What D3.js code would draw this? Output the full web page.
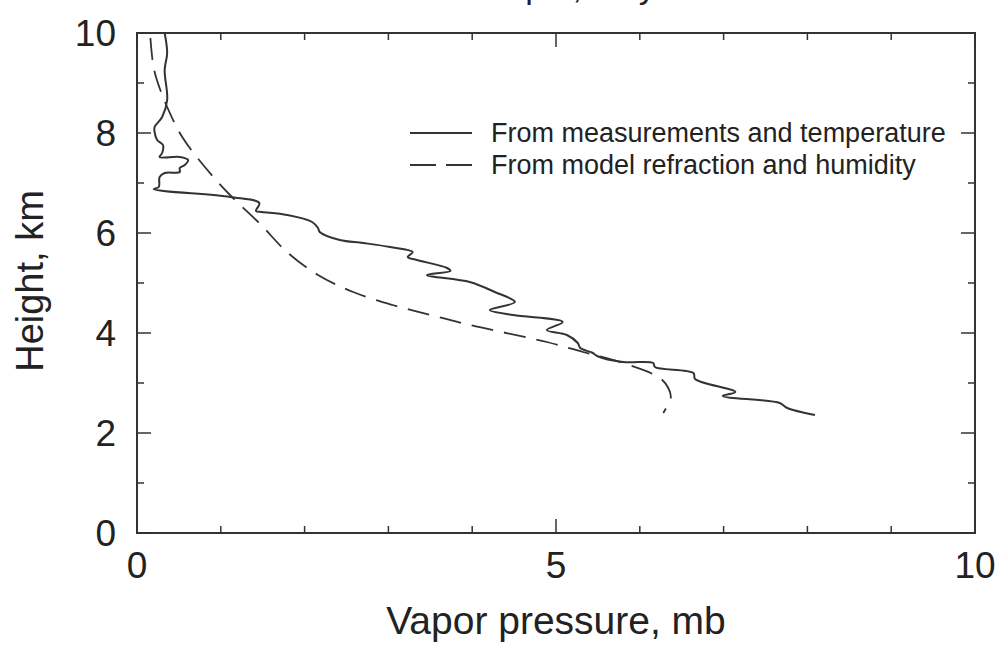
<!DOCTYPE html>
<meta charset="utf-8">
<script src="https://d3js.org/d3.v7.min.js"></script>
<style>
  body { margin: 0; background: #fff; }
  text { font-family: "Liberation Sans", Arial, Helvetica, sans-serif; fill: #222; }
</style>
<div id="my_dataviz"></div>
<script>
// vapor pressure (mb) and height (km), measured profile, top to bottom
var measPressure = [0.33,0.36,0.33,0.36,0.30,0.21,0.21,0.24,0.31,0.30,0.27,0.51,0.61,0.57,0.51,0.51,0.33,0.27,0.26,0.20,
  1.11,1.46,1.42,1.49,1.79,2.09,2.16,2.18,2.42,2.70,3.02,3.29,3.23,3.34,3.70,3.74,3.46,3.97,4.27,4.51,4.21,4.49,
  5.08,4.89,5.13,5.26,5.29,5.44,5.49,5.80,6.16,6.18,6.64,6.66,7.14,6.99,7.67,7.76,8.09];
var measHeight = [10.0,9.60,9.26,8.66,8.32,8.12,8.02,7.86,7.76,7.60,7.52,7.52,7.46,7.36,7.30,7.22,7.20,7.12,6.92,6.88,
  6.72,6.60,6.44,6.42,6.36,6.22,6.10,6.02,5.86,5.80,5.72,5.62,5.52,5.46,5.30,5.24,5.16,5.02,4.82,4.62,4.46,4.36,
  4.22,4.06,3.96,3.80,3.70,3.60,3.54,3.42,3.40,3.32,3.20,3.08,2.82,2.74,2.60,2.50,2.36];

// model refraction and humidity profile
var modelPressure = [0.16,0.19,0.23,0.36,0.54,0.81,1.11,1.47,1.79,2.16,2.58,3.05,3.50,3.97,4.89,5.32,5.76,6.24,6.34,6.37,6.32,6.28];
var modelHeight = [9.90,9.40,9.10,8.52,7.92,7.32,6.76,6.18,5.62,5.16,4.82,4.56,4.36,4.16,3.82,3.62,3.42,3.10,2.90,2.72,2.52,2.40];

var xTickLabels = [0, 5, 10];
var yTickLabels = [0, 2, 4, 6, 8, 10];
var legendLabels = ["From measurements and temperature", "From model refraction and humidity"];

var W = 1000, H = 645;
var margin = {top: 33, right: 25, bottom: 112, left: 137},
    width = W - margin.left - margin.right,
    height = H - margin.top - margin.bottom;

var svg = d3.select("#my_dataviz")
  .append("svg")
    .attr("width", W)
    .attr("height", H);

var g = svg.append("g")
    .attr("transform", "translate(" + margin.left + "," + margin.top + ")");

var x = d3.scaleLinear().domain([0, 10]).range([0, width]);
var y = d3.scaleLinear().domain([0, 10]).range([height, 0]);

var ink = "#333";

// title, almost all of it above the top of the page
svg.append("text")
    .attr("x", 703)
    .attr("y", -2)
    .attr("text-anchor", "end")
    .style("font-size", "34px")
    .text("Water vapor, May 23");

// frame
g.append("rect")
    .attr("width", width)
    .attr("height", height)
    .attr("fill", "none")
    .attr("stroke", ink)
    .attr("stroke-width", 2);

// inward ticks on all four sides
var ticks = d3.range(0, 11);
function tickLen(v, major) { return major(v) ? 14 : 7; }
var xMajor = function(v) { return v % 5 === 0; };
var yMajor = function(v) { return v % 2 === 0; };

g.selectAll(".xb").data(ticks).enter().append("line")
    .attr("x1", function(d){ return x(d) }).attr("x2", function(d){ return x(d) })
    .attr("y1", height).attr("y2", function(d){ return height - tickLen(d, xMajor) })
    .attr("stroke", ink).attr("stroke-width", 1.5);
g.selectAll(".xt").data(ticks).enter().append("line")
    .attr("x1", function(d){ return x(d) }).attr("x2", function(d){ return x(d) })
    .attr("y1", 0).attr("y2", function(d){ return tickLen(d, xMajor) })
    .attr("stroke", ink).attr("stroke-width", 1.5);
g.selectAll(".yl").data(ticks).enter().append("line")
    .attr("y1", function(d){ return y(d) }).attr("y2", function(d){ return y(d) })
    .attr("x1", 0).attr("x2", function(d){ return tickLen(d, yMajor) })
    .attr("stroke", ink).attr("stroke-width", 1.5);
g.selectAll(".yr").data(ticks).enter().append("line")
    .attr("y1", function(d){ return y(d) }).attr("y2", function(d){ return y(d) })
    .attr("x1", width).attr("x2", function(d){ return width - tickLen(d, yMajor) })
    .attr("stroke", ink).attr("stroke-width", 1.5);

// tick labels
g.selectAll(".xlab").data(xTickLabels).enter().append("text")
    .attr("x", function(d){ return x(d) })
    .attr("y", height + 45)
    .attr("text-anchor", "middle")
    .style("font-size", "37px")
    .text(function(d){ return d });
g.selectAll(".ylab").data(yTickLabels).enter().append("text")
    .attr("x", -21)
    .attr("y", function(d){ return y(d) })
    .attr("dy", "0.36em")
    .attr("text-anchor", "end")
    .style("font-size", "37px")
    .text(function(d){ return d });

// axis titles
svg.append("text")
    .attr("x", 556)
    .attr("y", 634)
    .attr("text-anchor", "middle")
    .style("font-size", "39px")
    .text("Vapor pressure, mb");
svg.append("text")
    .attr("transform", "translate(43,281) rotate(-90)")
    .attr("text-anchor", "middle")
    .style("font-size", "38px")
    .text("Height, km");

// profiles
var meas = measPressure.map(function(v, i){ return [v, measHeight[i]] });
var model = modelPressure.map(function(v, i){ return [v, modelHeight[i]] });

g.append("path")
    .datum(meas)
    .attr("fill", "none")
    .attr("stroke", ink)
    .attr("stroke-width", 2)
    .attr("stroke-linejoin", "round")
    .attr("d", d3.line()
      .curve(d3.curveCatmullRom.alpha(0.5))
      .x(function(d){ return x(d[0]) })
      .y(function(d){ return y(d[1]) }));

g.append("path")
    .datum(model)
    .attr("fill", "none")
    .attr("stroke", ink)
    .attr("stroke-width", 1.8)
    .attr("stroke-dasharray", "22,11")
    .attr("d", d3.line()
      .curve(d3.curveCatmullRom)
      .x(function(d){ return x(d[0]) })
      .y(function(d){ return y(d[1]) }));

// legend
var legend = svg.append("g");
legend.append("line")
    .attr("x1", 410).attr("x2", 472).attr("y1", 133).attr("y2", 133)
    .attr("stroke", ink).attr("stroke-width", 1.8);
legend.append("line")
    .attr("x1", 410).attr("x2", 472).attr("y1", 165).attr("y2", 165)
    .attr("stroke", ink).attr("stroke-width", 1.8)
    .attr("stroke-dasharray", "26,10");
legend.selectAll(".lt").data(legendLabels).enter().append("text")
    .attr("x", 491)
    .attr("y", function(d, i){ return 142 + i * 32 })
    .style("font-size", "27px")
    .text(function(d){ return d });
</script>
